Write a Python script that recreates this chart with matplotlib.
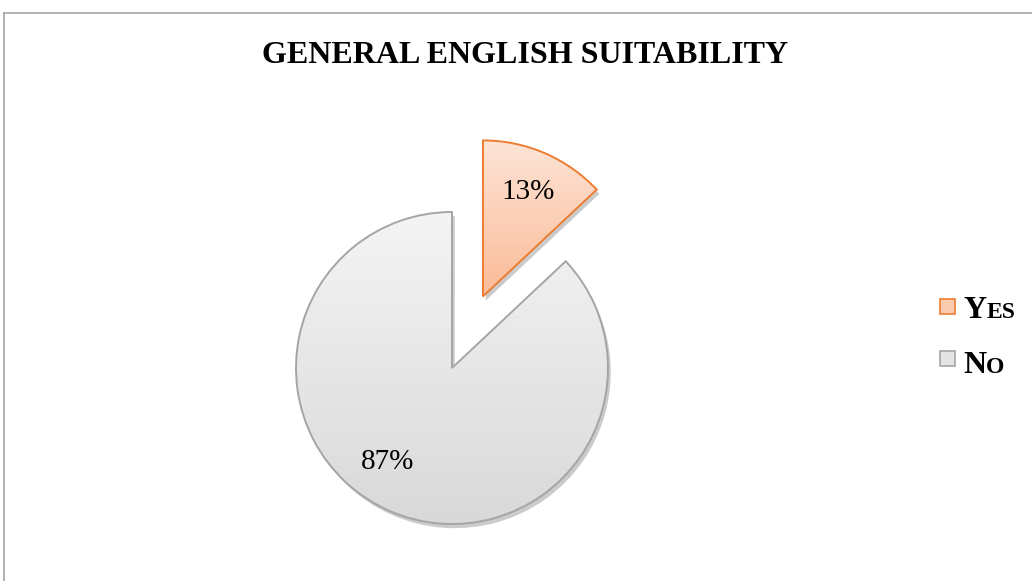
import matplotlib.pyplot as plt
import matplotlib.patheffects as pe
from matplotlib.colors import LinearSegmentedColormap
from matplotlib.lines import Line2D
from matplotlib.patches import Rectangle, Wedge
import numpy as np

plt.rcParams['font.family'] = ['Liberation Serif', 'DejaVu Serif']

labels = ["Yes", "No"]
values = [13, 87]
explode = [0.5, 0.0]
edge_colors = ["#ed7d31", "#a5a5a5"]
grad_colors = [("#fde4d6", "#fbbb98"), ("#f4f4f4", "#d9d9d9")]

W, H = 1032, 581
fig = plt.figure(figsize=(W / 100, H / 100), dpi=100)

# pie centre (452, 368) px from top-left, radius 156 px
cx, cy, r = 452, H - 368, 156
half = 1.6
ax = fig.add_axes([(cx - r * half) / W, (cy - r * half) / H,
                   2 * r * half / W, 2 * r * half / H])

wedges, texts, autotexts = ax.pie(
    values, explode=explode, startangle=90, counterclock=False,
    autopct='%1.0f%%', pctdistance=0.73,
    wedgeprops=dict(linewidth=1.4),
    textprops=dict(fontsize=21, color='black'))

ax.set_xlim(-half, half)
ax.set_ylim(-half, half)
ax.set_aspect('equal')
ax.axis('off')

for w, ec, (c_top, c_bot) in zip(wedges, edge_colors, grad_colors):
    w.set_facecolor('none')
    w.set_edgecolor(ec)
    w.set_zorder(3)
    # soft shadow underneath
    sh = Wedge(w.center, w.r, w.theta1, w.theta2, facecolor='#888888',
               edgecolor='none', zorder=1)
    ax.add_patch(sh)
    sh.set_path_effects([pe.SimplePatchShadow(offset=(2, -3), alpha=0.3,
                                              shadow_rgbFace='#555555')])
    cmap = LinearSegmentedColormap.from_list('g', [c_bot, c_top])
    grad = np.linspace(0, 1, 256).reshape(-1, 1)
    im = ax.imshow(grad, cmap=cmap, origin='lower', aspect='auto',
                   extent=[-half, half, -half, half], zorder=2)
    bb = w.get_path().get_extents(w.get_transform())
    y0, y1 = ax.transData.inverted().transform([(0, bb.y0), (0, bb.y1)])[:, 1]
    im.set_extent([-half, half, y0, y1])
    im.set_clip_path(w)

for t in autotexts:
    t.set_zorder(5)
# Excel places the big label a bit further round
autotexts[1].set_position((-0.41, -0.60))

ax.set_xlim(-half, half)
ax.set_ylim(-half, half)

fig.text(525 / W, 1 - 63 / H, "GENERAL ENGLISH SUITABILITY", ha='center', va='baseline',
         fontsize=23, fontweight='bold')

# chart border
fig.add_artist(Line2D([4 / W, 1], [1 - 13 / H, 1 - 13 / H], color='#a6a6a6', lw=1.2))
fig.add_artist(Line2D([4 / W, 4 / W], [0, 1 - 13 / H], color='#a6a6a6', lw=1.2))

# legend with small caps
leg_fill = ["#fbcbb0", "#e4e4e4"]
sq_centres = [306, 358]
baselines = [318, 373]
for lab, ec, fc, yc, yb in zip(labels, edge_colors, leg_fill, sq_centres, baselines):
    fig.add_artist(Rectangle((940 / W, 1 - (yc + 7.5) / H), 15 / W, 15 / H,
                             facecolor=fc, edgecolor=ec, lw=1.2))
    t1 = fig.text(963 / W, 1 - yb / H, lab[0].upper(), fontsize=23, fontweight='bold',
                  ha='left', va='baseline')
    fig.canvas.draw()
    bb = t1.get_window_extent()
    fig.text(bb.x1 / W, 1 - yb / H, lab[1:].upper(), fontsize=17, fontweight='bold',
             ha='left', va='baseline')

fig.savefig("out.png", dpi=100)
